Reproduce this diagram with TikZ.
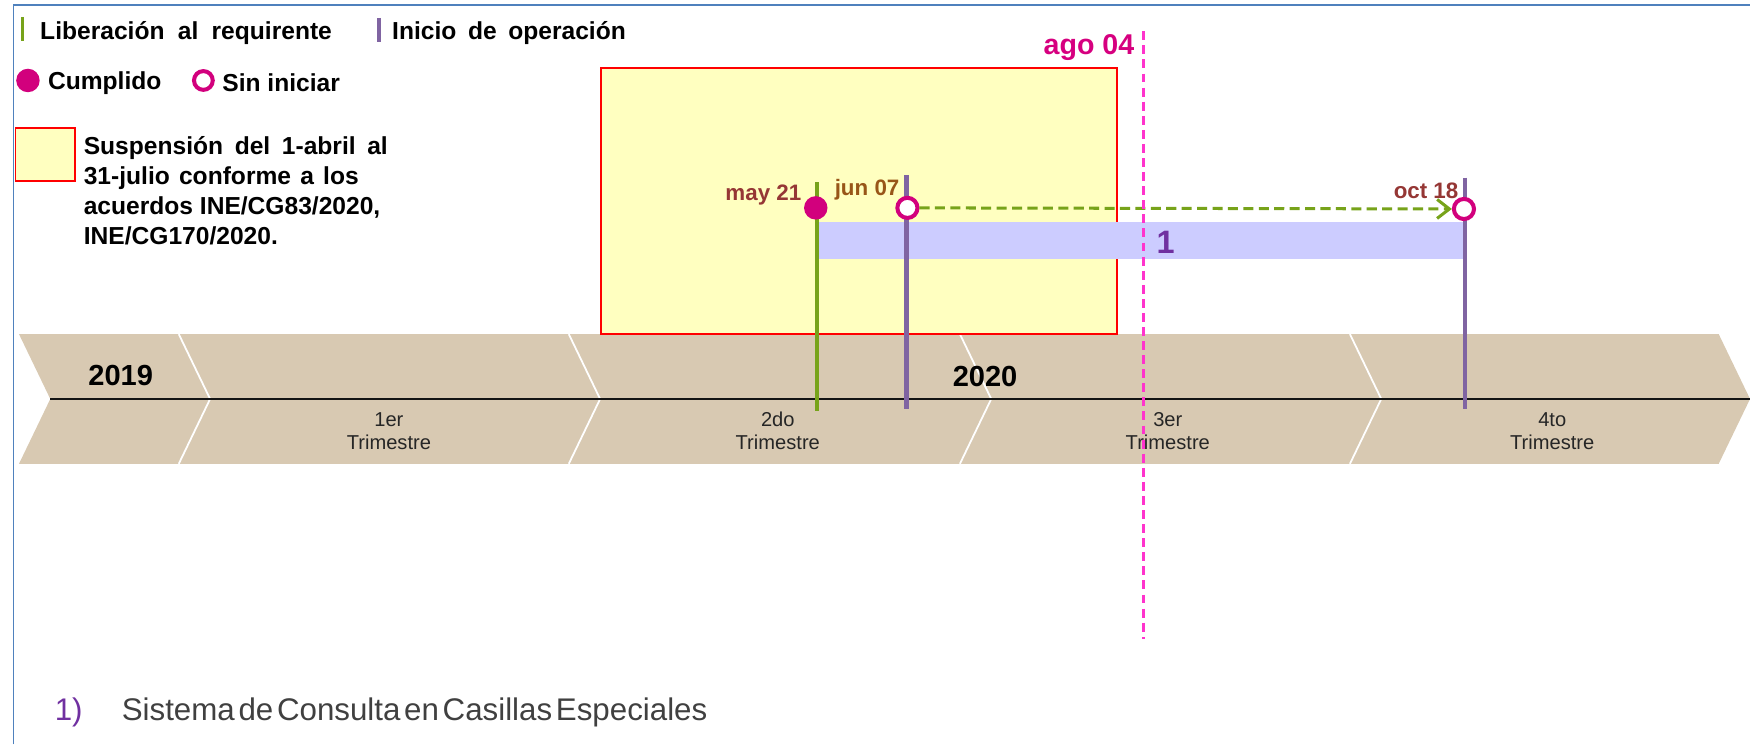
\documentclass[tikz,border=0pt]{standalone}
\usepackage{fontspec}
\setmainfont{Liberation Sans}
\usetikzlibrary{arrows.meta}
\definecolor{frameblue}{RGB}{79,129,189}
\definecolor{olive}{RGB}{119,163,26}
\definecolor{violetline}{RGB}{128,100,162}
\definecolor{mag}{RGB}{210,0,125}
\definecolor{pinkdash}{RGB}{255,51,204}
\definecolor{chev}{RGB}{216,201,178}
\definecolor{suspyellow}{RGB}{255,255,192}
\definecolor{barblue}{RGB}{204,204,255}
\definecolor{daterd}{RGB}{149,55,53}
\definecolor{datebr}{RGB}{152,86,24}
\definecolor{agomag}{RGB}{214,0,127}
\definecolor{numpurple}{RGB}{112,48,160}
\definecolor{qgray}{RGB}{38,38,38}
\definecolor{bottomgray}{RGB}{64,64,64}
\tikzset{
  lbl/.style={inner sep=0pt, outer sep=0pt},
  legendtxt/.style={lbl, font=\fontsize{11}{13.5}\selectfont\bfseries, text=black},
  datetxt/.style={lbl, font=\fontsize{10}{12}\selectfont\bfseries},
  yeartxt/.style={lbl, font=\fontsize{13}{15}\selectfont\bfseries, text=black},
  quartertxt/.style={lbl, align=center, font=\fontsize{9}{10.25}\selectfont, text=qgray},
  donedot/.style={circle, fill=mag, inner sep=0pt, minimum size=10.5pt},
  openring/.style={circle, draw=mag, fill=white, line width=1.8pt, inner sep=0pt, minimum size=9pt},
  legring/.style={circle, draw=mag, fill=white, line width=1.8pt, inner sep=0pt, minimum size=8.4pt},
  chevfill/.style={fill=chev},
  chevsep/.style={draw=white, line width=0.8pt},
  greenline/.style={draw=olive, line width=1.8pt},
  violetstroke/.style={draw=violetline, line width=2pt},
  suspbox/.style={fill=suspyellow, draw=red, line width=0.8pt},
  dasharrow/.style={draw=olive, line width=1.35pt, dash pattern=on 4.5pt off 2.4pt, -{Straight Barb[length=5.5pt,width=8.5pt,line width=1.35pt]}},
  pinkline/.style={draw=pinkdash, line width=1.25pt, dash pattern=on 4pt off 2.3pt},
}
\begin{document}
\begin{tikzpicture}[x=0.5pt,y=-0.5pt]
\useasboundingbox (0,0) rectangle (1566,666);
% frame
\coordinate (fbl) at (12,666);
\coordinate (ftl) at (12,4.5);
\coordinate (ftr) at (1566,4.5);
\draw[frameblue, line width=0.8pt] (fbl) -- (ftl) -- (ftr);

% legend row 1
\coordinate (lg1) at (20,15); \coordinate (lg2) at (20,37);
\draw[greenline, line width=1.6pt] (lg1) -- (lg2);
\node[legendtxt, anchor=base west] (liblbl) at (36,35) {\makebox[130.5pt][s]{Liberación al requirente}};
\coordinate (lv1) at (339,16); \coordinate (lv2) at (339,38);
\draw[violetstroke] (lv1) -- (lv2);
\node[legendtxt, anchor=base west] (inilbl) at (351,35) {\makebox[104.5pt][s]{Inicio de operación}};

% legend row 2
\node[donedot] (legdot) at (25,72) {};
\node[legendtxt, anchor=base west] (cumlbl) at (43,80) {Cumplido};
\node[legring] (legring) at (182,72) {};
\node[legendtxt, anchor=base west] (sinlbl) at (199,82) {Sin iniciar};

% legend box
\node[suspbox, inner sep=0pt, minimum width=26.5pt, minimum height=23.5pt, anchor=north west] (legbox) at (13,114) {};
\node[legendtxt, anchor=base west] (s1) at (75,138) {\makebox[136pt][s]{Suspensión del 1-abril al}};
\node[legendtxt, anchor=base west] (s2) at (75,165) {\makebox[123pt][s]{31-julio conforme a los}};
\node[legendtxt, anchor=base west] (s3) at (75,192) {acuerdos INE/CG83/2020,};
\node[legendtxt, anchor=base west] (s4) at (75,219) {INE/CG170/2020.};

% chevron band
\foreach \L/\R in {17/160,160/509,509/859,859/1208,1208/1538} {
  \fill[chevfill] (\L,299) -- (\R,299) -- ({\R+28},357) -- (\R,415) -- (\L,415) -- ({\L+28},357) -- cycle;
}
\foreach \R in {160,509,859,1208} {
  \draw[chevsep] (\R,299) -- ({\R+28},357) -- (\R,415);
}
\coordinate (mid1) at (45,357); \coordinate (mid2) at (1566,357);
\draw[line width=1.1pt, black!92] (mid1) -- (mid2);

\node[yeartxt] (y2019) at (108,336) {2019};
\node[yeartxt] (y2020) at (881.5,337) {2020};
\node[quartertxt] (q1) at (348,385.5) {1er\\Trimestre};
\node[quartertxt] (q2) at (696,385.5) {2do\\Trimestre};
\node[quartertxt] (q3) at (1045,385.5) {3er\\Trimestre};
\node[quartertxt] (q4) at (1389,385.5) {4to\\Trimestre};

% suspension rectangle
\node[suspbox, inner sep=0pt, minimum width=231pt, minimum height=119pt, anchor=north west] (susp) at (537,60) {};

% activity bar
\fill[barblue] (733,199) rectangle (1309,232);
\node[lbl, font=\fontsize{14.5}{16}\selectfont\bfseries, text=numpurple] (bar1) at (1043,217) {1};

% vertical lines
\coordinate (gtop) at (731,163); \coordinate (gbot) at (731,368);
\draw[greenline] (gtop) -- (gbot);
\coordinate (ptop1) at (811,157); \coordinate (pbot1) at (811,366);
\draw[violetstroke] (ptop1) -- (pbot1);
\coordinate (ptop2) at (1311,159); \coordinate (pbot2) at (1311,366);
\draw[violetstroke] (ptop2) -- (pbot2);

% markers
\node[donedot] (may) at (730,186) {};
\node[openring] (jun) at (812,186) {};
\node[openring] (oct) at (1310,187) {};
\draw[dasharrow] (jun) -- (oct);

\node[datetxt, text=daterd, anchor=base east] (maylbl) at (717,179) {may 21};
\node[datetxt, text=datebr, anchor=base west] (junlbl) at (747,175) {jun 07};
\node[datetxt, text=daterd, anchor=base east] (octlbl) at (1305,178) {oct 18};

% today line
\node[lbl, font=\fontsize{12.8}{15}\selectfont\bfseries, text=agomag, anchor=base east] (agolbl) at (1015,49) {ago 04};
\coordinate (dtop) at (1023,28); \coordinate (dbot) at (1023,572);
\draw[pinkline] (dtop) -- (dbot);

% footnote
\node[lbl, font=\fontsize{14}{16}\selectfont, text=numpurple, anchor=base west] (fn1) at (49,645) {1)};
\node[lbl, font=\fontsize{14}{16}\selectfont, text=bottomgray, anchor=base west] (fntxt) at (109,645) {\spaceskip=0.1em plus 1em minus 0.1em\relax\makebox[262pt][s]{Sistema de Consulta en Casillas Especiales}};
\end{tikzpicture}
\end{document}
